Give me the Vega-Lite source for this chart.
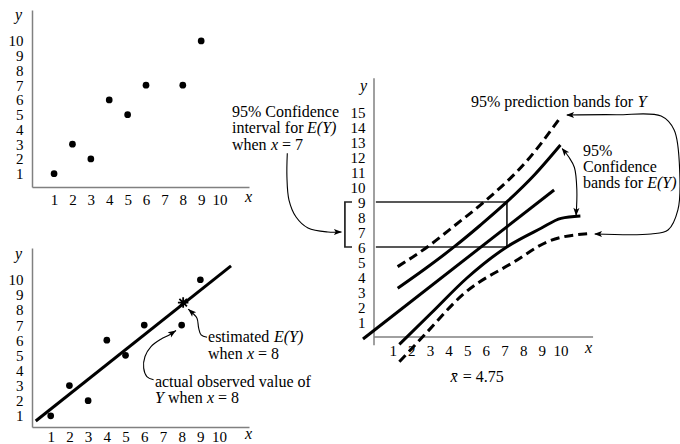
{
  "$schema": "https://vega.github.io/schema/vega-lite/v6.json",
  "padding": {"left": 8, "top": 6, "right": 0, "bottom": 0},
  "background": "white",
  "config": {
    "view": {"stroke": null},
    "font": "Liberation Serif",
    "axis": {"grid": false, "ticks": false, "domainColor": "#808080", "domainWidth": 1.5, "labelFont": "Liberation Serif", "labelFontSize": 15, "labelColor": "#000", "labelOverlap": false, "labelFlush": false, "titleFont": "Liberation Serif", "titleFontSize": 16, "titleFontStyle": "italic", "titleFontWeight": "normal", "titleColor": "#000", "titleAngle": 0, "titleAlign": "center", "titleBaseline": "middle"},
    "text": {"font": "Liberation Serif", "fontSize": 16, "color": "#000"}
  },
  "datasets": {
    "pts": [{"x":1,"y":1},{"x":2,"y":3},{"x":3,"y":2},{"x":4,"y":6},{"x":5,"y":5},{"x":6,"y":7},{"x":8,"y":7},{"x":9,"y":10}]
  },
  "spacing": 342,
  "bounds": "flush",
  "hconcat": [
    {
      "spacing": 61,
      "bounds": "flush",
      "vconcat": [
        {
          "width": 217, "height": 177,
          "data": {"name": "pts"},
          "mark": {"type": "circle", "size": 45, "color": "#000", "opacity": 1},
          "encoding": {
            "x": {"field": "x", "type": "quantitative", "scale": {"domain": [-0.2, 11.6], "nice": false, "zero": false}, "axis": {"title": "x", "values": [1,2,3,4,5,6,7,8,9,10], "labelPadding": 5, "titleX": 216, "titleY": 9}},
            "y": {"field": "y", "type": "quantitative", "scale": {"domain": [0.1, 12.1], "nice": false, "zero": false}, "axis": {"title": "y", "values": [1,2,3,4,5,6,7,8,9,10], "labelPadding": 9, "titleX": -14, "titleY": 4}}
          }
        },
        {
          "width": 217, "height": 179,
          "encoding": {
            "x": {"field": "x", "type": "quantitative", "scale": {"domain": [0, 11.6], "nice": false, "zero": false}, "axis": {"title": "x", "values": [1,2,3,4,5,6,7,8,9,10], "labelPadding": 2, "titleX": 216, "titleY": 6}},
            "y": {"field": "y", "type": "quantitative", "scale": {"domain": [0.26, 12.1], "nice": false, "zero": false}, "axis": {"title": "y", "values": [1,2,3,4,5,6,7,8,9,10], "labelPadding": 9, "titleX": -14, "titleY": 5}}
          },
          "layer": [
            {
              "data": {"values": [{"x":0.2,"y":0.66},{"x":10.64,"y":10.92}]},
              "mark": {"type": "line", "color": "#000", "strokeWidth": 3}
            },
            {
              "data": {"name": "pts"},
              "mark": {"type": "circle", "size": 45, "color": "#000", "opacity": 1}
            },
            {
              "data": {"values": [{"x":8.08,"y":8.49}]},
              "mark": {"type": "point", "shape": "M-1,0L1,0M0,-1L0,1M-0.72,-0.72L0.72,0.72M-0.72,0.72L0.72,-0.72", "size": 110, "filled": false, "stroke": "#000", "strokeWidth": 1.8, "opacity": 1}
            },
            {
              "data": {"values": [
                {"s":"est","i":0,"x":9.36,"y":6.2},{"s":"est","i":1,"x":9.04,"y":6.35},{"s":"est","i":2,"x":8.91,"y":6.8},{"s":"est","i":3,"x":8.82,"y":7.46},{"s":"est","i":4,"x":8.59,"y":7.79},{"s":"est","i":5,"x":8.35,"y":8.06},
                {"s":"obs","i":0,"x":6.5,"y":3.38},{"s":"obs","i":1,"x":6.14,"y":3.6},{"s":"obs","i":2,"x":5.97,"y":4.15},{"s":"obs","i":3,"x":6.04,"y":4.92},{"s":"obs","i":4,"x":6.36,"y":5.58},{"s":"obs","i":5,"x":6.89,"y":6.07},{"s":"obs","i":6,"x":7.34,"y":6.35},{"s":"obs","i":7,"x":7.7,"y":6.64}
              ]},
              "mark": {"type": "line", "color": "#000", "strokeWidth": 1.1, "interpolate": "catmull-rom"},
              "encoding": {"detail": {"field": "s"}, "order": {"field": "i", "type": "quantitative"}}
            },
            {
              "data": {"values": [{"x":8.35,"y":8.06}]},
              "mark": {"type": "point", "shape": "M0,0L-1,-0.38L-0.78,0L-1,0.38Z", "size": 256, "filled": true, "color": "#000", "opacity": 1, "angle": 222}
            },
            {
              "data": {"values": [{"x":7.7,"y":6.64}]},
              "mark": {"type": "point", "shape": "M0,0L-1,-0.38L-0.78,0L-1,0.38Z", "size": 256, "filled": true, "color": "#000", "opacity": 1, "angle": 327}
            },
            {
              "data": {"values": [
                {"x":9.41,"y":6.2,"t":"estimated"},
                {"x":9.41,"y":5.1,"t":"when"},
                {"x":12.08,"y":5.1,"t":"= 8"},
                {"x":6.57,"y":3.26,"t":"actual observed value of"},
                {"x":7.27,"y":2.16,"t":"when"},
                {"x":9.94,"y":2.16,"t":"= 8"}
              ]},
              "mark": {"type": "text", "align": "left", "baseline": "middle", "fontSize": 16},
              "encoding": {"text": {"field": "t"}}
            },
            {
              "data": {"values": [
                {"x":12.93,"y":6.2,"t":"E(Y)"},
                {"x":11.49,"y":5.1,"t":"x"},
                {"x":6.57,"y":2.16,"t":"Y"},
                {"x":9.35,"y":2.16,"t":"x"}
              ]},
              "mark": {"type": "text", "align": "left", "baseline": "middle", "fontSize": 16, "fontStyle": "italic"},
              "encoding": {"text": {"field": "t"}}
            }
          ]
        }
      ]
    },
    {
      "width": 220, "height": 327,
      "encoding": {
        "x": {"field": "x", "type": "quantitative", "scale": {"domain": [0, 11.8], "nice": false, "zero": false}, "axis": {"title": "x", "values": [1,2,3,4,5,6,7,8,9,10], "domain": false, "labelPadding": 6, "titleX": 214, "titleY": 10}},
        "y": {"field": "y", "type": "quantitative", "scale": {"domain": [0, 21.8], "nice": false, "zero": false}, "axis": {"title": "y", "values": [1,2,3,4,5,6,7,8,9,10,11,12,13,14,15], "domain": false, "labelPadding": 9, "titleX": -11, "titleY": 75}}
      },
      "layer": [
        {
          "data": {"values": [{"x":0,"y":-0.55,"y2":17.25}]},
          "mark": {"type": "rule", "color": "#808080", "strokeWidth": 1.5},
          "encoding": {"y2": {"field": "y2"}}
        },
        {
          "data": {"values": [{"x":0,"x2":11.75,"y":0}]},
          "mark": {"type": "rule", "color": "#808080", "strokeWidth": 1.5},
          "encoding": {"x2": {"field": "x2"}}
        },
        {
          "data": {"values": [
            {"s":"box","i":0,"x":0.1,"y":9},{"s":"box","i":1,"x":7.13,"y":9},{"s":"box","i":2,"x":7.13,"y":6},{"s":"box","i":3,"x":0.1,"y":6},
            {"s":"bracket","i":0,"x":-1.18,"y":9},{"s":"bracket","i":1,"x":-1.56,"y":9},{"s":"bracket","i":2,"x":-1.56,"y":6},{"s":"bracket","i":3,"x":-1.18,"y":6}
          ]},
          "mark": {"type": "line", "color": "#222", "strokeWidth": 1.7},
          "encoding": {"detail": {"field": "s"}, "order": {"field": "i", "type": "quantitative"}}
        },
        {
          "data": {"values": [
            {"s":"reg","x":-0.59,"y":-0.13},{"s":"reg","x":9.66,"y":9.8},
            {"s":"ciU","x":1.27,"y":3.25},{"s":"ciU","x":2.8,"y":4.6},{"s":"ciU","x":4.31,"y":6.02},{"s":"ciU","x":5.7,"y":7.45},{"s":"ciU","x":7.14,"y":9.02},{"s":"ciU","x":8.6,"y":10.8},{"s":"ciU","x":10.0,"y":12.8},
            {"s":"ciL","x":1.36,"y":-0.49},{"s":"ciL","x":3.06,"y":1.58},{"s":"ciL","x":5.0,"y":3.95},{"s":"ciL","x":7.14,"y":6.02},{"s":"ciL","x":8.96,"y":7.25},{"s":"ciL","x":10.03,"y":7.91},{"s":"ciL","x":11.07,"y":8.07}
          ]},
          "mark": {"type": "line", "color": "#000", "strokeWidth": 3, "interpolate": "monotone"},
          "encoding": {"detail": {"field": "s"}}
        },
        {
          "data": {"values": [
            {"s":"piU","x":1.27,"y":4.69},{"s":"piU","x":2.88,"y":6.02},{"s":"piU","x":4.4,"y":7.5},{"s":"piU","x":5.92,"y":9.02},{"s":"piU","x":8.24,"y":11.8},{"s":"piU","x":10.03,"y":14.69},
            {"s":"piL","x":1.36,"y":-1.65},{"s":"piL","x":2.7,"y":0.13},{"s":"piL","x":4.84,"y":2.91},{"s":"piL","x":7.53,"y":5.02},{"s":"piL","x":9.32,"y":6.36},{"s":"piL","x":11.28,"y":6.87},{"s":"piL","x":11.6,"y":6.9}
          ]},
          "mark": {"type": "line", "color": "#000", "strokeWidth": 3, "strokeDash": [9, 5], "interpolate": "monotone"},
          "encoding": {"detail": {"field": "s"}}
        },
        {
          "data": {"values": [
            {"s":"gap","i":0,"x":-4.65,"y":12.25},{"s":"gap","i":1,"x":-4.67,"y":10.67},{"s":"gap","i":2,"x":-4.56,"y":9.13},{"s":"gap","i":3,"x":-4.18,"y":8.0},{"s":"gap","i":4,"x":-3.54,"y":7.27},{"s":"gap","i":5,"x":-2.47,"y":7.0},{"s":"gap","i":6,"x":-1.75,"y":7.0},
            {"s":"ci","i":0,"x":10.1,"y":12.55},{"s":"ci","i":1,"x":10.45,"y":12.0},{"s":"ci","i":2,"x":10.75,"y":11.3},{"s":"ci","i":3,"x":10.88,"y":9.8},{"s":"ci","i":4,"x":10.84,"y":8.1},
            {"s":"pred","i":0,"x":10.35,"y":14.8},{"s":"pred","i":1,"x":13.0,"y":14.82},{"s":"pred","i":2,"x":15.4,"y":14.73},{"s":"pred","i":3,"x":16.1,"y":13.8},{"s":"pred","i":4,"x":16.4,"y":10.93},{"s":"pred","i":5,"x":16.3,"y":8.47},{"s":"pred","i":6,"x":15.77,"y":7.13},{"s":"pred","i":7,"x":14.86,"y":6.87},{"s":"pred","i":8,"x":11.85,"y":6.87}
          ]},
          "mark": {"type": "line", "color": "#000", "strokeWidth": 1.1, "interpolate": "catmull-rom"},
          "encoding": {"detail": {"field": "s"}, "order": {"field": "i", "type": "quantitative"}}
        },
        {
          "data": {"values": [{"x":-1.72,"y":7.0}]},
          "mark": {"type": "point", "shape": "M0,0L-1,-0.38L-0.78,0L-1,0.38Z", "size": 256, "filled": true, "color": "#000", "opacity": 1, "angle": 0}
        },
        {
          "data": {"values": [{"x":10.07,"y":12.6}]},
          "mark": {"type": "point", "shape": "M0,0L-1,-0.38L-0.78,0L-1,0.38Z", "size": 256, "filled": true, "color": "#000", "opacity": 1, "angle": 231}
        },
        {
          "data": {"values": [{"x":10.84,"y":8.07}]},
          "mark": {"type": "point", "shape": "M0,0L-1,-0.38L-0.78,0L-1,0.38Z", "size": 256, "filled": true, "color": "#000", "opacity": 1, "angle": 92}
        },
        {
          "data": {"values": [{"x":10.3,"y":14.8},{"x":11.8,"y":6.87}]},
          "mark": {"type": "point", "shape": "M0,0L-1,-0.38L-0.78,0L-1,0.38Z", "size": 256, "filled": true, "color": "#000", "opacity": 1, "angle": 180}
        },
        {
          "data": {"values": [
            {"x":5.2,"y":15.67,"t":"95% prediction bands for"},
            {"x":11.21,"y":12.4,"t":"95%"},
            {"x":11.21,"y":11.33,"t":"Confidence"},
            {"x":11.21,"y":10.28,"t":"bands for"},
            {"x":-7.62,"y":15.02,"t":"95% Confidence"},
            {"x":-7.62,"y":13.91,"t":"interval for"},
            {"x":-7.62,"y":12.8,"t":"when"},
            {"x":-4.94,"y":12.8,"t":"= 7"},
            {"x":4.76,"y":-2.67,"t":"= 4.75"}
          ]},
          "mark": {"type": "text", "align": "left", "baseline": "middle", "fontSize": 16},
          "encoding": {"text": {"field": "t"}}
        },
        {
          "data": {"values": [
            {"x":14.14,"y":15.67,"t":"Y"},
            {"x":14.65,"y":10.28,"t":"E(Y)"},
            {"x":-3.59,"y":13.91,"t":"E(Y)"},
            {"x":-5.53,"y":12.8,"t":"x"},
            {"x":4.1,"y":-2.67,"t":"x̄"}
          ]},
          "mark": {"type": "text", "align": "left", "baseline": "middle", "fontSize": 16, "fontStyle": "italic"},
          "encoding": {"text": {"field": "t"}}
        }
      ]
    }
  ]
}
